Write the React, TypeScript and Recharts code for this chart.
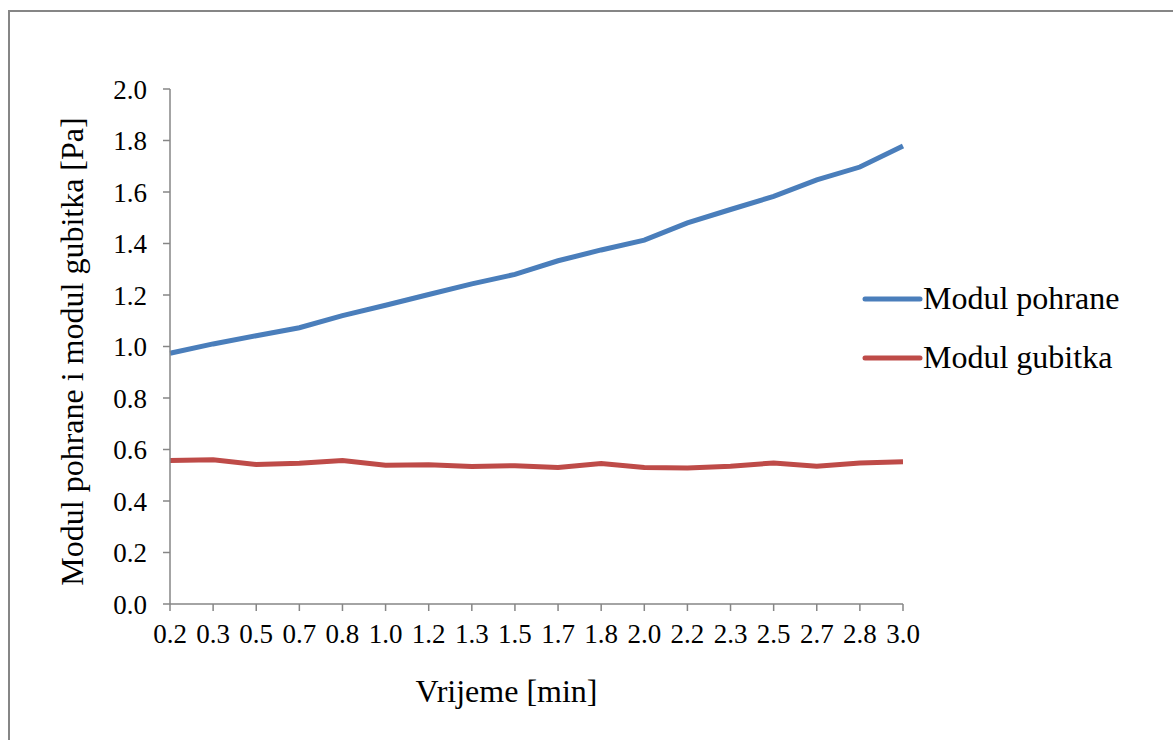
import { LineChart, Line, XAxis, YAxis, Legend, Label } from "recharts";

const times = [
  "0.2", "0.3", "0.5", "0.7", "0.8", "1.0", "1.2", "1.3", "1.5",
  "1.7", "1.8", "2.0", "2.2", "2.3", "2.5", "2.7", "2.8", "3.0",
];

const modulPohrane = [
  0.974, 1.01, 1.042, 1.073, 1.12, 1.16, 1.202, 1.243, 1.28,
  1.333, 1.375, 1.413, 1.48, 1.532, 1.583, 1.647, 1.697, 1.779,
];

const modulGubitka = [
  0.557, 0.56, 0.542, 0.547, 0.557, 0.539, 0.541, 0.534, 0.537,
  0.53, 0.546, 0.53, 0.528, 0.535, 0.548, 0.535, 0.548, 0.552,
];

const yTicks = [0, 0.2, 0.4, 0.6, 0.8, 1.0, 1.2, 1.4, 1.6, 1.8, 2.0];

const seriesOrder = ["Modul pohrane", "Modul gubitka"];

const FONT = '"Liberation Serif", "Times New Roman", serif';
const AXIS = "#868686";

const data = times.map((t, i) => ({
  t,
  pohrane: modulPohrane[i],
  gubitka: modulGubitka[i],
}));

function LegendBox({ payload }: any) {
  const items = [...(payload || [])].sort(
    (a: any, b: any) => seriesOrder.indexOf(a.value) - seriesOrder.indexOf(b.value)
  );
  return (
    <svg width={310} height={110}>
      {items.map((p: any, i: number) => (
        <g key={p.value}>
          <line
            x1={5}
            x2={60}
            y1={29 + i * 59}
            y2={29 + i * 59}
            stroke={p.color}
            strokeWidth={5}
            strokeLinecap="round"
          />
          <text x={63} y={39 + i * 59} fontFamily={FONT} fontSize={32} fill="#000">
            {p.value}
          </text>
        </g>
      ))}
    </svg>
  );
}

export default function App() {
  return (
    <div
      style={{
        position: "absolute",
        left: 0,
        top: 0,
        width: 1173,
        height: 740,
        overflow: "hidden",
        background: "#fff",
      }}
    >
      <div
        style={{
          position: "absolute",
          left: 8,
          top: 10,
          width: 1250,
          height: 800,
          border: `2px solid ${AXIS}`,
          boxSizing: "border-box",
        }}
      />
      <div style={{ position: "absolute", left: 0, top: 0 }}>
        <LineChart
          width={1173}
          height={740}
          data={data}
          margin={{ top: 89, right: 270, left: 110, bottom: 106 }}
        >
          <XAxis
            dataKey="t"
            interval={0}
            height={30}
            tickSize={7}
            tickMargin={13}
            axisLine={{ stroke: AXIS, strokeWidth: 1.5 }}
            tickLine={{ stroke: AXIS, strokeWidth: 1.5 }}
            tick={{ fill: "#000", fontSize: 27, fontFamily: FONT }}
          >
            <Label
              content={({ viewBox }: any) => (
                <text
                  x={viewBox.x + viewBox.width / 2 - 30}
                  y={702}
                  textAnchor="middle"
                  fontFamily={FONT}
                  fontSize={32}
                  fill="#000"
                >
                  Vrijeme [min]
                </text>
              )}
            />
          </XAxis>
          <YAxis
            width={60}
            domain={[0, 2]}
            ticks={yTicks}
            interval={0}
            tickSize={7}
            tickMargin={16}
            tickFormatter={(v: number) => v.toFixed(1)}
            axisLine={{ stroke: AXIS, strokeWidth: 1.5 }}
            tickLine={{ stroke: AXIS, strokeWidth: 1.5 }}
            tick={{ fill: "#000", fontSize: 27, fontFamily: FONT }}
          >
            <Label
              content={({ viewBox }: any) => {
                const cx = 83;
                const cy = viewBox.y + viewBox.height / 2 + 5;
                return (
                  <text
                    x={cx}
                    y={cy}
                    textAnchor="middle"
                    transform={`rotate(-90, ${cx}, ${cy})`}
                    fontFamily={FONT}
                    fontSize={32}
                    fill="#000"
                  >
                    Modul pohrane i modul gubitka [Pa]
                  </text>
                );
              }}
            />
          </YAxis>
          <Legend
            layout="horizontal"
            verticalAlign="middle"
            align="center"
            content={<LegendBox />}
            wrapperStyle={{ left: 860, top: 270, width: 310, height: 110 }}
          />
          <Line
            dataKey="pohrane"
            name="Modul pohrane"
            stroke="#4a7ebb"
            strokeWidth={5}
            dot={false}
            activeDot={false}
            isAnimationActive={false}
          />
          <Line
            dataKey="gubitka"
            name="Modul gubitka"
            stroke="#be4b48"
            strokeWidth={5}
            dot={false}
            activeDot={false}
            isAnimationActive={false}
          />
        </LineChart>
      </div>
    </div>
  );
}
